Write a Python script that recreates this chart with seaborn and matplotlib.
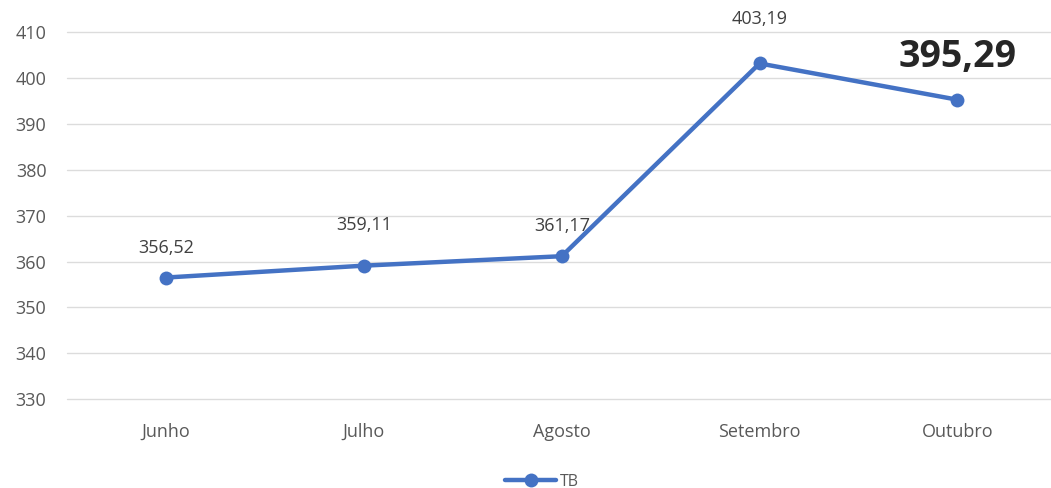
import pandas as pd
import matplotlib.pyplot as plt
import seaborn as sns

meses = ["Junho", "Julho", "Agosto", "Setembro", "Outubro"]
tb = [356.52, 359.11, 361.17, 403.19, 395.29]
rotulos = ["356,52", "359,11", "361,17", "403,19", "395,29"]

df = pd.DataFrame({"mes": meses, "TB": tb})

sns.set_style("whitegrid")
plt.rcParams["font.family"] = ["Open Sans", "DejaVu Sans"]

cor = "#4472C4"
fig = plt.figure(figsize=(10.51, 4.88), dpi=100)
ax = fig.add_axes([0.064, 0.182, 0.941, 0.752])
sns.lineplot(data=df, x="mes", y="TB", ax=ax, color=cor, linewidth=3.2,
             marker="o", markersize=10, markeredgewidth=0, label="TB", sort=False)

ax.set_xlim(-0.5, 4.5)
ax.set_ylim(330, 410)
ax.set_yticks(range(330, 411, 10))
ax.grid(axis="y", color="#DCDCDC", linewidth=1)
ax.grid(axis="x", visible=False)
for gl in ax.get_ygridlines():
    gl.set_clip_on(False)
for s in ax.spines.values():
    s.set_visible(False)
ax.set_xlabel("")
ax.set_ylabel("")
ax.tick_params(axis="both", colors="#595959", labelsize=13, length=0)
ax.tick_params(axis="y", pad=15)
ax.tick_params(axis="x", pad=17)

# desvio vertical de cada rótulo (em pontos), como no Excel
desvios = [21, 29, 22, 32, 31]
for i, (v, t) in enumerate(zip(tb, rotulos)):
    if i == 4:
        ax.annotate(t, (i, v), xytext=(0, desvios[i]), textcoords="offset points",
                    ha="center", va="center", fontsize=27, fontweight="bold", color="#262626")
    else:
        ax.annotate(t, (i, v), xytext=(0, desvios[i]), textcoords="offset points",
                    ha="center", va="center", fontsize=13, color="#404040")

leg = ax.legend(loc="center", bbox_to_anchor=(0.48, -0.225), frameon=False,
                fontsize=11.5, handlelength=3.2, handletextpad=0.2)
for t in leg.get_texts():
    t.set_color("#595959")

fig.savefig("out.png", dpi=100)
